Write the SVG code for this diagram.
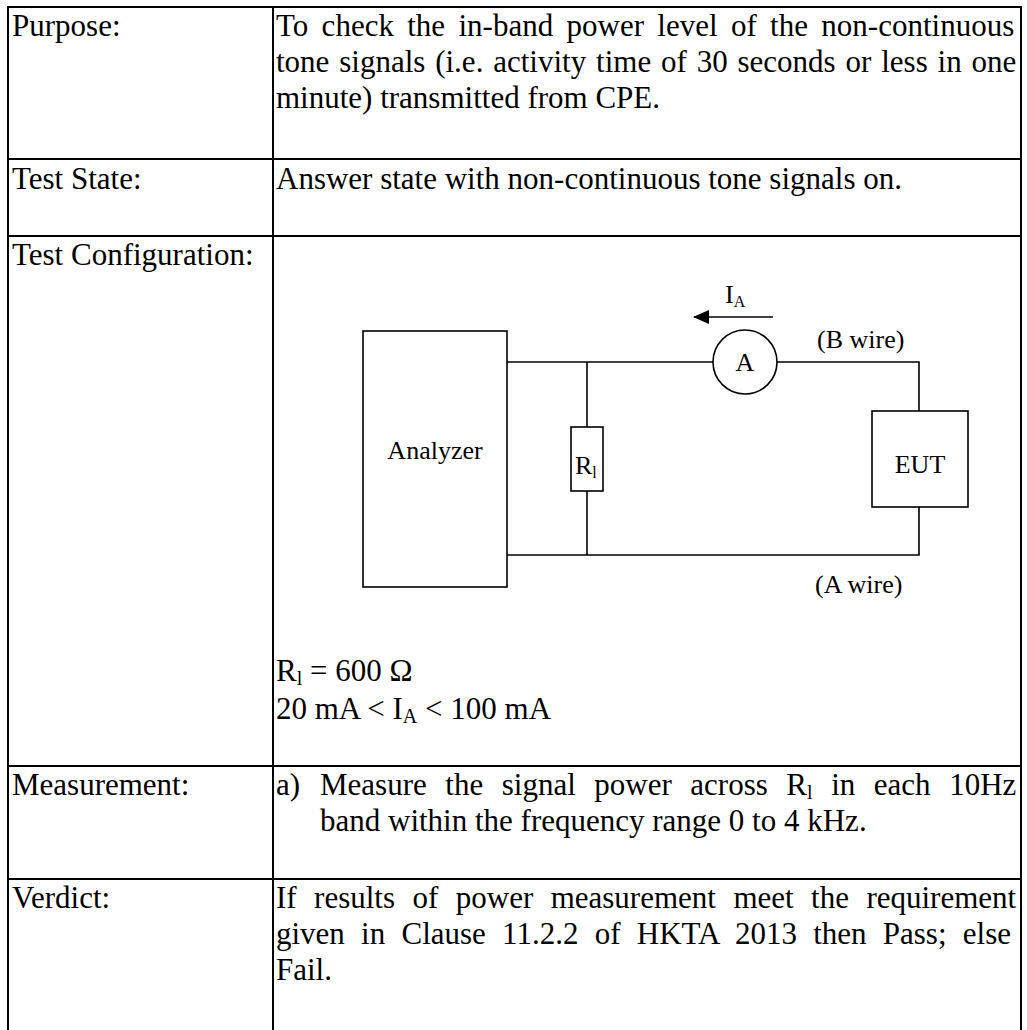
<svg xmlns="http://www.w3.org/2000/svg" width="1027" height="1030" viewBox="0 0 1027 1030">
<defs>
<style>
text{font-family:"Liberation Serif","Times New Roman",serif;fill:#000}
.t{font-size:31px}
.c{font-size:26px}
.grid{stroke:#000;stroke-width:2;fill:none}
.w{stroke:#000;stroke-width:1.6;fill:none}
.box{stroke:#000;stroke-width:1.6;fill:#fff}
</style>
<marker id="ah" viewBox="0 0 16 14" refX="15" refY="7" markerWidth="16" markerHeight="14" markerUnits="userSpaceOnUse" orient="auto">
<path d="M0,0 L16,7 L0,14 Z" fill="#000"/>
</marker>
</defs>
<rect width="1027" height="1030" fill="#fff"/>
<g id="table" class="grid">
<path d="M8,7 H1021 M8,6 V1030 M1021,6 V1030 M273,6 V1030 M8,159 H1021 M8,236 H1021 M8,766 H1021 M8,879 H1021"/>
</g>
<g id="labels" class="t">
<text x="12" y="36">Purpose:</text>
<text x="12" y="189">Test State:</text>
<text x="12" y="265">Test Configuration:</text>
<text x="12" y="795">Measurement:</text>
<text x="12" y="908">Verdict:</text>
</g>
<g id="contents" class="t">
<text x="276" y="36" word-spacing="5.6">To check the in-band power level of the non-continuous</text>
<text x="276" y="72" word-spacing="2.1">tone signals (i.e. activity time of 30 seconds or less in one</text>
<text x="276" y="108">minute) transmitted from CPE.</text>
<text x="276" y="189">Answer state with non-continuous tone signals on.</text>
<text x="276" y="681">R<tspan font-size="20" dy="4">l</tspan><tspan dy="-4"> = 600 Ω</tspan></text>
<text x="276" y="719">20 mA &lt; I<tspan font-size="20" dy="4">A</tspan><tspan dy="-4"> &lt; 100 mA</tspan></text>
<text x="276" y="795">a)</text>
<text x="320" y="795" word-spacing="10.8">Measure the signal power across R<tspan font-size="20" dy="4">l</tspan><tspan dy="-4"> in each 10Hz</tspan></text>
<text x="320" y="831">band within the frequency range 0 to 4 kHz.</text>
<text x="276" y="908" word-spacing="9.7">If results of power measurement meet the requirement</text>
<text x="276" y="944" word-spacing="8.5">given in Clause 11.2.2 of HKTA 2013 then Pass; else</text>
<text x="276" y="980">Fail.</text>
</g>
<g id="connectors" class="w">
<path d="M507,362 H713"/>
<path d="M777,362 H919 V411"/>
<path d="M919,507 V555 H507"/>
<path d="M587,362 V427"/>
<path d="M587,491 V555"/>
<path d="M773,317 H694" marker-end="url(#ah)"/>
</g>
<g id="analyzer">
<rect class="box" x="363" y="331" width="144" height="256"/>
<text class="c" x="435" y="459" text-anchor="middle">Analyzer</text>
</g>
<g id="resistor">
<rect class="box" x="571" y="427" width="32" height="64"/>
<text class="c" x="575" y="474" font-size="25">R<tspan font-size="16" dy="4">l</tspan></text>
</g>
<g id="ammeter">
<circle class="box" cx="745" cy="362" r="32"/>
<text class="c" x="745" y="371" text-anchor="middle">A</text>
</g>
<g id="eut">
<rect class="box" x="872" y="411" width="96" height="96"/>
<text class="c" x="920" y="473" text-anchor="middle">EUT</text>
</g>
<g id="wire-labels" class="c">
<text x="725" y="303">I<tspan font-size="16" dy="4">A</tspan></text>
<text x="817" y="348">(B wire)</text>
<text x="815" y="593">(A wire)</text>
</g>
</svg>
